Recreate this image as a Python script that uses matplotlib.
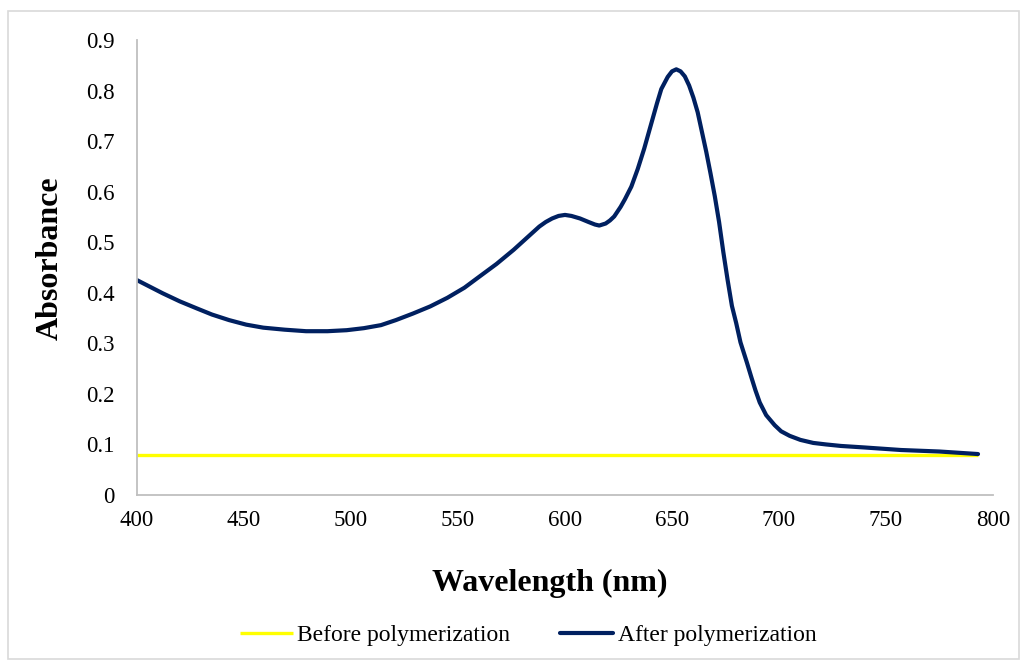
import matplotlib
matplotlib.use("Agg")
import matplotlib.pyplot as plt
from matplotlib.patches import Rectangle

plt.rcParams['font.family'] = ['Liberation Serif', 'DejaVu Serif']

# absorbance before polymerization (flat baseline)
before_wl = [400, 793]
before_abs = [0.08, 0.08]

# absorbance after polymerization
after_wl = [400, 406, 412, 420, 428, 435, 443, 451, 459, 469, 479, 489, 498,
            506, 514, 521, 529, 537, 545, 553, 560, 568, 576, 582, 588, 591,
            594, 597, 600, 603, 607, 611, 614, 616, 619, 621, 623, 626, 628,
            631, 634, 637, 640, 643, 645, 648, 650, 652, 654, 656, 658, 660,
            662, 664, 666, 668, 670, 672, 674, 676, 678, 680, 682, 685, 687,
            689, 691, 694, 698, 701, 705, 710, 716, 722, 729, 740, 757, 775,
            793]
after_abs = [0.425, 0.412, 0.399, 0.383, 0.369, 0.357, 0.346, 0.337, 0.331,
             0.327, 0.324, 0.324, 0.326, 0.330, 0.336, 0.346, 0.359, 0.373,
             0.390, 0.410, 0.432, 0.457, 0.485, 0.508, 0.531, 0.540, 0.547,
             0.552, 0.554, 0.552, 0.547, 0.540, 0.535, 0.533, 0.537, 0.543,
             0.551, 0.570, 0.585, 0.610, 0.645, 0.685, 0.730, 0.775, 0.803,
             0.827, 0.838, 0.842, 0.838, 0.828, 0.810, 0.786, 0.757, 0.718,
             0.679, 0.636, 0.591, 0.540, 0.480, 0.425, 0.374, 0.340, 0.302,
             0.262, 0.234, 0.207, 0.183, 0.158, 0.138, 0.126, 0.117, 0.109,
             0.103, 0.100, 0.097, 0.094, 0.089, 0.086, 0.081]

x_ticks = [400, 450, 500, 550, 600, 650, 700, 750, 800]
y_ticks = [0, 0.1, 0.2, 0.3, 0.4, 0.5, 0.6, 0.7, 0.8, 0.9]
y_labels = ['0', '0.1', '0.2', '0.3', '0.4', '0.5', '0.6', '0.7', '0.8', '0.9']

fig = plt.figure(figsize=(10.27, 6.68), dpi=100)
ax = fig.add_axes([137/1027, 1 - 495/668, (993 - 137)/1027, (495 - 40)/668])

ax.plot(before_wl, before_abs, color='#FFFF00', lw=2.4, label='Before polymerization',
        solid_capstyle='butt')
ax.plot(after_wl, after_abs, color='#002060', lw=3.0, label='After polymerization',
        solid_joinstyle='round', solid_capstyle='round')

ax.set_xlim(400, 800)
ax.set_ylim(0, 0.9)
ax.set_xticks(x_ticks)
ax.set_yticks(y_ticks)
ax.set_yticklabels(y_labels)
ax.tick_params(length=0, labelsize=16.5)
ax.tick_params(axis='y', pad=16)
ax.tick_params(axis='x', pad=11)
for s in ['top', 'right']:
    ax.spines[s].set_visible(False)
for s in ['left', 'bottom']:
    ax.spines[s].set_color('#BFBFBF')
    ax.spines[s].set_linewidth(1.3)

fig.text(550/1027, 1 - 583/668, 'Wavelength (nm)', fontsize=23, fontweight='bold',
         ha='center', va='center')
fig.text(50/1027, 1 - 258/668, 'Absorbance', fontsize=23, fontweight='bold',
         ha='center', va='center', rotation=90)

fig.legend(loc='center', bbox_to_anchor=(528/1027, 1 - 635/668), ncol=2,
           frameon=False, fontsize=17, handlelength=2.25, handletextpad=0.2,
           columnspacing=2.1)

# light grey frame around the whole chart
fig.patches.append(Rectangle((8/1027, 1 - 659/668), 1011/1027, 648/668,
                             transform=fig.transFigure, fill=False,
                             edgecolor='#D9D9D9', lw=1.2))

fig.savefig('out.png', dpi=100)
